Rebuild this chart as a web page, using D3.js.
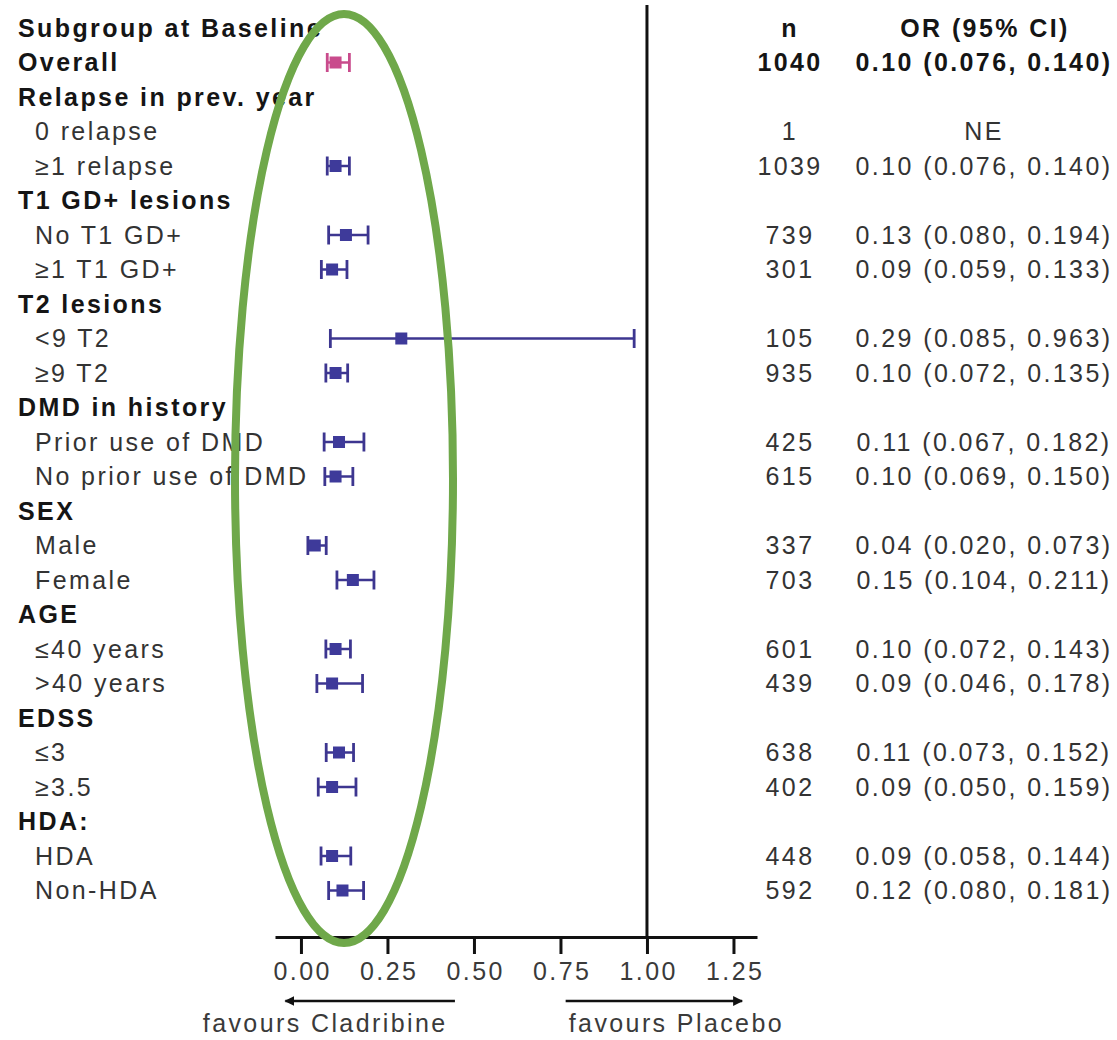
<!DOCTYPE html>
<html>
<head>
<meta charset="utf-8">
<script src="https://cdn.jsdelivr.net/npm/d3@7"></script>
<style>
  html, body { margin: 0; padding: 0; background: #fff; }
  svg { display: block; }
  text { font-family: "Liberation Sans", Arial, Helvetica, sans-serif; font-size: 25px; letter-spacing: 2.4px; }
</style>
</head>
<body>
<svg id="chart" width="1117" height="1040"></svg>
<script>
// Subgroup rows (top to bottom)
const labels = [
  "Overall", "Relapse in prev. year", "0 relapse", "≥1 relapse",
  "T1 GD+ lesions", "No T1 GD+", "≥1 T1 GD+",
  "T2 lesions", "<9 T2", "≥9 T2",
  "DMD in history", "Prior use of DMD", "No prior use of DMD",
  "SEX", "Male", "Female",
  "AGE", "≤40 years", ">40 years",
  "EDSS", "≤3", "≥3.5",
  "HDA:", "HDA", "Non-HDA"
];
// 0 = group heading (bold, flush left), 1 = subgroup (indented)
const levels = [0, 0, 1, 1, 0, 1, 1, 0, 1, 1, 0, 1, 1, 0, 1, 1, 0, 1, 1, 0, 1, 1, 0, 1, 1];
const nValues = [1040, null, 1, 1039, null, 739, 301, null, 105, 935, null, 425, 615, null, 337, 703, null, 601, 439, null, 638, 402, null, 448, 592];
const orValues = [0.10, null, null, 0.10, null, 0.13, 0.09, null, 0.29, 0.10, null, 0.11, 0.10, null, 0.04, 0.15, null, 0.10, 0.09, null, 0.11, 0.09, null, 0.09, 0.12];
const ciLow = [0.076, null, null, 0.076, null, 0.080, 0.059, null, 0.085, 0.072, null, 0.067, 0.069, null, 0.020, 0.104, null, 0.072, 0.046, null, 0.073, 0.050, null, 0.058, 0.080];
const ciHigh = [0.140, null, null, 0.140, null, 0.194, 0.133, null, 0.963, 0.135, null, 0.182, 0.150, null, 0.073, 0.211, null, 0.143, 0.178, null, 0.152, 0.159, null, 0.144, 0.181];
const tickValues = [0, 0.25, 0.5, 0.75, 1, 1.25];
const columnTitles = ["Subgroup at Baseline", "n", "OR (95% CI)"];
const directionLabels = ["favours Cladribine", "favours Placebo"];

const rows = labels.map((label, i) => ({
  i, label, level: levels[i], n: nValues[i],
  or: orValues[i], lo: ciLow[i], hi: ciHigh[i],
  overall: i === 0
}));

const svg = d3.select("#chart");

// scales
const x = d3.scaleLinear().domain([-0.075, 1.318]).range([275, 757]);
const y = d3.scaleLinear().domain([-1, labels.length - 1]).range([28, 890.5]);

const axisY = 937;
const purple = "#3d3690";
const purpleFill = "#3e3a9a";
const pink = "#c94b8c";
const dark = "#151515", mid = "#333";
const f2 = d3.format(".2f"), f3 = d3.format(".3f");

// column headings
svg.append("text").attr("x", 18).attr("y", y(-1)).attr("dy", "0.35em")
  .attr("font-weight", "bold").attr("fill", dark).text(columnTitles[0]);
svg.append("text").attr("x", 790).attr("y", y(-1)).attr("dy", "0.35em")
  .attr("text-anchor", "middle").attr("font-weight", "bold").attr("fill", dark).text(columnTitles[1]);
svg.append("text").attr("x", 985).attr("y", y(-1)).attr("dy", "0.35em")
  .attr("text-anchor", "middle").attr("font-weight", "bold").attr("fill", dark).text(columnTitles[2]);

// row labels
svg.append("g").selectAll("text").data(rows).join("text")
  .attr("x", d => d.level === 0 ? 18 : 35)
  .attr("y", d => y(d.i)).attr("dy", "0.35em")
  .attr("font-weight", d => d.level === 0 ? "bold" : "normal")
  .attr("fill", d => d.level === 0 ? dark : mid)
  .text(d => d.label);

// n column
svg.append("g").selectAll("text").data(rows.filter(d => d.n != null)).join("text")
  .attr("x", 790).attr("y", d => y(d.i)).attr("dy", "0.35em")
  .attr("text-anchor", "middle")
  .attr("font-weight", d => d.overall ? "bold" : "normal")
  .attr("fill", d => d.overall ? dark : mid)
  .text(d => d.n);

// OR (95% CI) column
svg.append("g").selectAll("text").data(rows.filter(d => d.n != null)).join("text")
  .attr("x", 984).attr("y", d => y(d.i)).attr("dy", "0.35em")
  .attr("text-anchor", "middle")
  .attr("font-weight", d => d.overall ? "bold" : "normal")
  .attr("fill", d => d.overall ? dark : mid)
  .text(d => d.or == null ? "NE" : `${f2(d.or)} (${f3(d.lo)}, ${f3(d.hi)})`);

// line of no effect
svg.append("line")
  .attr("x1", x(1)).attr("x2", x(1)).attr("y1", 5).attr("y2", axisY)
  .attr("stroke", "#111").attr("stroke-width", 3);

// estimates with confidence intervals
const est = rows.filter(d => d.or != null);
const g = svg.append("g").selectAll("g").data(est).join("g")
  .attr("transform", d => `translate(0,${y(d.i)})`);
g.append("line")
  .attr("x1", d => x(d.lo)).attr("x2", d => x(d.hi))
  .attr("stroke", d => d.overall ? pink : purple).attr("stroke-width", 2.5);
g.append("line")
  .attr("x1", d => x(d.lo)).attr("x2", d => x(d.lo)).attr("y1", -9.5).attr("y2", 9.5)
  .attr("stroke", d => d.overall ? pink : purple).attr("stroke-width", 2.8);
g.append("line")
  .attr("x1", d => x(d.hi)).attr("x2", d => x(d.hi)).attr("y1", -9.5).attr("y2", 9.5)
  .attr("stroke", d => d.overall ? pink : purple).attr("stroke-width", 2.8);
g.append("rect")
  .attr("x", d => x(d.or) - 6).attr("y", -6).attr("width", 12).attr("height", 12)
  .attr("fill", d => d.overall ? pink : purpleFill);

// x axis
const axis = d3.axisBottom(x).tickValues(tickValues).tickFormat(f2).tickSize(17).tickSizeOuter(0).tickPadding(8);
const ax = svg.append("g").attr("transform", `translate(0,${axisY})`).call(axis);
ax.select(".domain").attr("stroke", "#111").attr("stroke-width", 3);
ax.selectAll(".tick line").attr("stroke", "#111").attr("stroke-width", 3);
ax.selectAll(".tick text").attr("font-size", 25).attr("fill", "#3a3a3a")
  .attr("font-family", "'Liberation Sans', Arial, sans-serif").attr("dx", 1.2);

// direction arrows
const defs = svg.append("defs");
defs.append("marker").attr("id", "arrowhead").attr("viewBox", "0 0 10 10")
  .attr("refX", 9).attr("refY", 5).attr("markerWidth", 4).attr("markerHeight", 4)
  .attr("orient", "auto-start-reverse")
  .append("path").attr("d", "M0,0 L10,5 L0,10 z").attr("fill", "#111");

const arrowY = 1001;
svg.append("line").attr("x1", x(0.445)).attr("x2", x(-0.045)).attr("y1", arrowY).attr("y2", arrowY)
  .attr("stroke", "#111").attr("stroke-width", 2.5).attr("marker-end", "url(#arrowhead)");
svg.append("line").attr("x1", x(0.765)).attr("x2", x(1.275)).attr("y1", arrowY).attr("y2", arrowY)
  .attr("stroke", "#111").attr("stroke-width", 2.5).attr("marker-end", "url(#arrowhead)");

svg.append("text").attr("x", x(0.07)).attr("y", 1023).attr("dy", "0.35em")
  .attr("text-anchor", "middle").attr("fill", "#3a3a3a").text(directionLabels[0]);
svg.append("text").attr("x", x(1.085)).attr("y", 1023).attr("dy", "0.35em")
  .attr("text-anchor", "middle").attr("fill", "#3a3a3a").text(directionLabels[1]);

// highlight ellipse around the estimates
svg.append("ellipse")
  .attr("cx", 344).attr("cy", 478.5).attr("rx", 109).attr("ry", 464.5)
  .attr("fill", "none").attr("stroke", "#6fa84a").attr("stroke-width", 8);
</script>
</body>
</html>
